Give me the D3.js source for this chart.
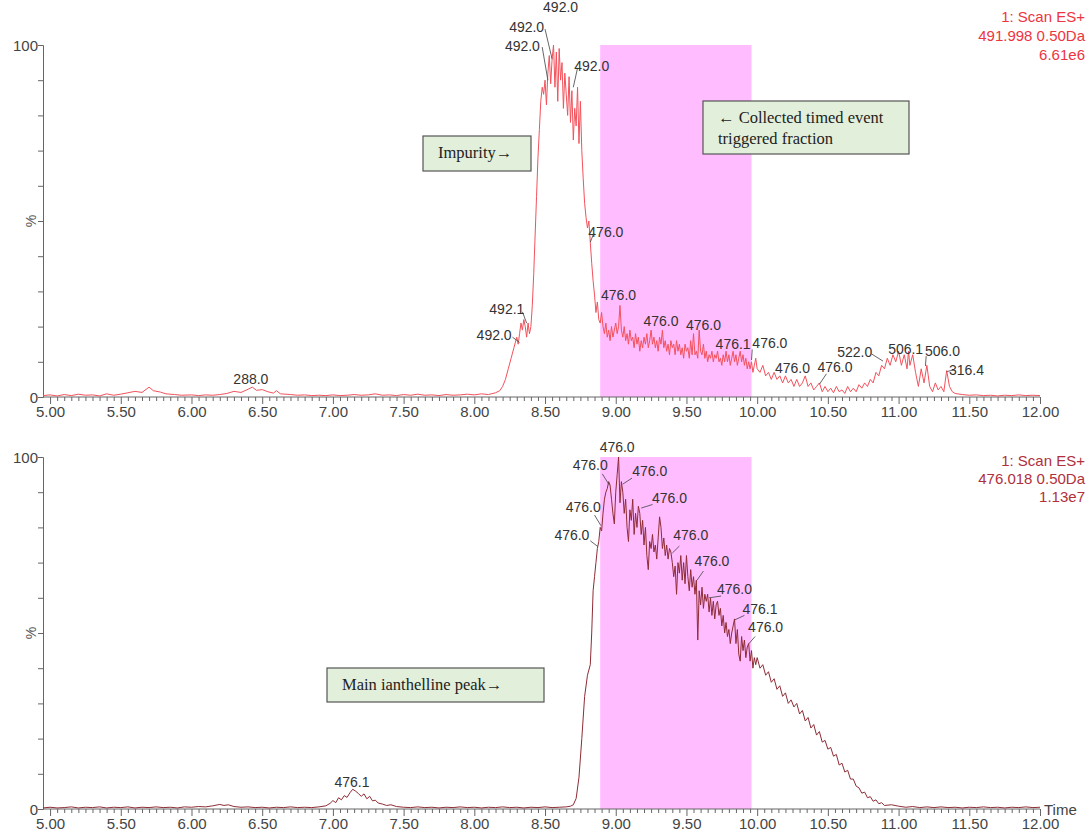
<!DOCTYPE html>
<html>
<head>
<meta charset="utf-8">
<script src="https://cdn.jsdelivr.net/npm/d3@7"></script>
<style>
  body { margin: 0; background: #fff; }
  svg { display: block; font-family: "Liberation Sans", Arial, sans-serif; }
</style>
</head>
<body>
<div id="chart"></div>
<script>
// ---- data (time in min, intensity in %) ----
var topTrace = [
  [4.95,0.4],[5.00,0.6],[5.05,0.3],[5.10,0.7],[5.15,0.4],[5.20,0.8],[5.25,0.5],[5.30,0.6],[5.35,0.3],[5.40,0.9],
  [5.45,0.5],[5.50,0.8],[5.55,1.2],[5.60,1.6],[5.65,1.3],[5.70,2.8],[5.73,1.8],[5.78,1.4],[5.82,0.9],[5.88,0.7],
  [5.93,0.5],[6.00,0.6],[6.05,0.4],[6.10,0.6],[6.15,0.5],[6.20,0.7],[6.25,1.0],[6.30,1.6],[6.35,1.3],[6.40,2.2],
  [6.43,2.8],[6.46,1.9],[6.50,2.1],[6.54,1.5],[6.58,1.1],[6.60,1.8],[6.63,0.9],[6.70,0.7],[6.75,0.5],[6.80,0.6],
  [6.85,0.4],[6.90,0.5],[6.95,0.4],[7.00,0.6],[7.05,0.4],[7.10,0.5],[7.15,0.7],[7.20,0.5],[7.25,0.6],[7.30,0.9],
  [7.35,0.5],[7.40,0.6],[7.45,0.4],[7.50,0.7],[7.55,0.5],[7.60,0.8],[7.65,0.5],[7.70,0.6],[7.75,0.4],[7.80,0.7],
  [7.85,0.5],[7.90,0.6],[7.95,0.8],[8.00,0.6],[8.05,0.9],[8.10,0.7],[8.15,1.2],[8.18,1.8],[8.20,3.0],
  [8.22,5],[8.24,8],[8.26,11],[8.28,14],[8.30,17],[8.31,15],[8.32,18],[8.33,21],[8.34,19],[8.35,22],
  [8.36,20],[8.37,17],[8.38,21],[8.39,18],[8.40,20],[8.41,26],[8.42,35],[8.43,46],[8.44,57],[8.45,68],
  [8.46,76],[8.47,84],[8.48,88],[8.49,86],[8.50,90],[8.51,83],[8.52,92],[8.53,97],[8.54,89],[8.55,96],
  [8.56,100],[8.57,88],[8.58,98],[8.59,84],[8.60,99],[8.61,90],[8.62,95],[8.63,82],[8.64,92],[8.65,86],
  [8.66,80],[8.67,91],[8.68,78],[8.69,87],[8.70,73],[8.71,82],[8.72,77],[8.73,88],[8.74,72],[8.75,84],
  [8.76,70],[8.77,62],[8.78,55],[8.79,51],[8.80,48],[8.81,50],[8.82,44],[8.83,38],[8.84,33],[8.85,29],
  [8.86,24],[8.87,27],[8.88,22],[8.89,21],[8.90,24],[8.91,20],[8.92,18],[8.93,21],[8.94,17],[8.95,19],
  [8.96,16],[8.97,20],[8.98,17],[8.99,19],[9.00,21],[9.01,18],[9.02,20],[9.03,26],[9.04,19],[9.05,17],
  [9.06,20],[9.07,16],[9.08,18],[9.09,15],[9.10,19],[9.11,16],[9.12,17],[9.13,14],[9.14,18],[9.15,15],
  [9.16,17],[9.17,13],[9.18,16],[9.19,14],[9.20,17],[9.21,15],[9.22,18],[9.23,14],[9.24,16],[9.25,19],
  [9.26,15],[9.27,17],[9.28,14],[9.29,16],[9.30,13],[9.31,17],[9.32,15],[9.33,19],[9.34,14],[9.35,16],
  [9.36,13],[9.37,15],[9.38,12],[9.39,16],[9.40,14],[9.41,15],[9.42,12],[9.43,16],[9.44,13],[9.45,15],
  [9.46,12],[9.47,14],[9.48,11],[9.49,15],[9.50,13],[9.51,14],[9.52,11],[9.53,16],[9.54,12],[9.55,18],
  [9.56,12],[9.57,13],[9.58,11],[9.59,19],[9.60,13],[9.61,12],[9.62,15],[9.63,11],[9.64,13],[9.65,10],
  [9.66,12],[9.67,11],[9.68,13],[9.69,10],[9.70,12],[9.71,11],[9.72,13],[9.73,10],[9.74,11],[9.75,9],
  [9.76,12],[9.77,10],[9.78,13],[9.79,10],[9.80,12],[9.81,9],[9.82,11],[9.83,13],[9.84,10],[9.85,12],
  [9.86,9],[9.87,11],[9.88,13],[9.89,10],[9.90,12],[9.91,9],[9.92,11],[9.93,8],[9.94,10],[9.95,8],
  [9.96,10],[9.97,7],[9.98,9],[9.99,11],[10.00,8],[10.02,7],[10.04,9],[10.06,6],[10.08,7],[10.10,5],
  [10.12,7],[10.14,5],[10.16,6],[10.18,4],[10.20,6],[10.22,4],[10.24,5],[10.26,3],[10.28,5],[10.30,3],
  [10.32,4],[10.34,6],[10.36,3],[10.38,4],[10.40,2],[10.42,3],[10.44,4],[10.46,1.5],[10.48,3],[10.50,1.5],
  [10.52,2.5],[10.54,1.2],[10.56,3],[10.58,1.5],[10.60,2],[10.62,1],[10.64,3],[10.66,1.5],[10.68,2.5],[10.70,1.5],
  [10.72,3.5],[10.74,2.5],[10.76,4],[10.78,3],[10.80,5],[10.82,4],[10.84,7],[10.86,6],[10.88,9],[10.90,8],
  [10.92,11],[10.94,9],[10.96,12],[10.98,10],[11.00,13],[11.02,9],[11.04,12],[11.06,8],[11.07,13],[11.08,9],
  [11.10,12],[11.12,7],[11.14,3],[11.16,8],[11.18,4],[11.20,9],[11.22,3],[11.24,1.5],[11.26,4],[11.28,2],
  [11.30,3],[11.32,1.5],[11.34,7.5],[11.36,3],[11.38,1.5],[11.40,1],[11.45,0.7],[11.50,0.5],[11.55,0.6],[11.60,0.4],
  [11.65,0.5],[11.70,0.3],[11.75,0.5],[11.80,0.4],[11.85,0.6],[11.90,0.4],[11.95,0.5],[12.00,0.4]
];

var bottomTrace = [
  [4.95,0.3],[5.00,0.5],[5.05,0.3],[5.10,0.4],[5.15,0.6],[5.20,0.3],[5.25,0.5],[5.30,0.4],[5.35,0.6],[5.40,0.3],
  [5.45,0.5],[5.50,0.4],[5.55,0.6],[5.60,0.3],[5.65,0.5],[5.70,0.4],[5.75,0.6],[5.80,0.4],[5.85,0.5],[5.90,0.3],
  [5.95,0.6],[6.00,0.5],[6.05,0.7],[6.10,0.6],[6.15,0.9],[6.20,1.3],[6.23,1.0],[6.26,1.2],[6.30,0.7],[6.35,0.5],
  [6.40,0.6],[6.45,0.4],[6.50,0.5],[6.55,0.3],[6.60,0.5],[6.65,0.4],[6.70,0.6],[6.75,0.4],[6.80,0.5],[6.85,0.4],
  [6.90,0.6],[6.95,0.9],[6.98,1.6],[7.00,2.4],[7.02,1.8],[7.04,3.2],[7.06,2.6],[7.08,3.8],[7.10,3.3],[7.12,4.6],
  [7.14,5.6],[7.16,5.1],[7.18,4.4],[7.20,3.6],[7.22,4.3],[7.24,2.9],[7.26,3.6],[7.28,2.3],[7.30,2.5],[7.32,1.7],
  [7.35,1.4],[7.38,1.0],[7.41,1.2],[7.45,0.7],[7.50,0.5],[7.55,0.4],[7.60,0.6],[7.65,0.4],[7.70,0.5],[7.75,0.3],
  [7.80,0.5],[7.85,0.4],[7.90,0.6],[7.95,0.4],[8.00,0.5],[8.05,0.3],[8.10,0.5],[8.15,0.4],[8.20,0.6],[8.25,0.4],
  [8.30,0.5],[8.35,0.3],[8.40,0.5],[8.45,0.4],[8.50,0.6],[8.55,0.4],[8.60,0.5],[8.65,0.6],[8.68,0.8],[8.70,1.2],
  [8.72,3],[8.74,9],[8.76,20],[8.78,32],[8.80,38],[8.82,41],[8.83,50],[8.84,62],[8.85,66],[8.86,70],
  [8.87,74],[8.88,76],[8.89,80],[8.90,79],[8.91,84],[8.92,88],[8.93,90],[8.94,91],[8.95,93],[8.96,92],
  [8.97,88],[8.98,84],[8.99,81],[9.00,90],[9.01,95],[9.02,100],[9.03,87],[9.04,93],[9.05,90],[9.06,84],
  [9.07,88],[9.08,80],[9.09,76],[9.10,85],[9.11,82],[9.12,88],[9.13,78],[9.14,84],[9.15,80],[9.16,86],
  [9.17,84],[9.18,78],[9.19,82],[9.20,75],[9.21,80],[9.22,72],[9.23,68],[9.24,76],[9.25,74],[9.26,78],
  [9.27,73],[9.28,75],[9.29,71],[9.30,77],[9.31,83],[9.32,80],[9.33,74],[9.34,77],[9.35,72],[9.36,75],
  [9.37,71],[9.38,74],[9.39,73],[9.40,70],[9.41,66],[9.42,69],[9.43,61],[9.44,70],[9.45,67],[9.46,72],
  [9.47,65],[9.48,70],[9.49,64],[9.50,72],[9.51,66],[9.52,62],[9.53,68],[9.54,63],[9.55,66],[9.56,61],
  [9.57,65],[9.58,48],[9.59,62],[9.60,58],[9.61,63],[9.62,57],[9.63,61],[9.64,59],[9.65,61],[9.66,56],
  [9.67,60],[9.68,55],[9.69,59],[9.70,54],[9.71,58],[9.72,59],[9.73,55],[9.74,57],[9.75,52],[9.76,55],
  [9.77,50],[9.78,53],[9.79,49],[9.80,51],[9.81,47],[9.82,50],[9.83,52],[9.84,54],[9.85,47],[9.86,51],
  [9.87,44],[9.88,42],[9.89,49],[9.90,45],[9.91,48],[9.92,43],[9.93,46],[9.94,47],[9.95,42],[9.96,45],
  [9.97,40],[9.98,43],[9.99,41],[10.00,43],[10.02,40],[10.04,41],[10.06,38],[10.08,39],[10.10,36],[10.12,37],
  [10.14,34],[10.16,35],[10.18,32],[10.20,33],[10.22,30],[10.24,31],[10.26,29],[10.28,30],[10.30,27],[10.32,28],
  [10.34,25],[10.36,26],[10.38,23],[10.40,24],[10.42,21],[10.44,22],[10.46,19],[10.48,19.5],[10.50,17],[10.52,17.5],
  [10.54,15],[10.56,15.5],[10.58,12.5],[10.60,13],[10.62,10.5],[10.64,11],[10.66,8.5],[10.68,8.5],[10.70,6.5],[10.72,6],
  [10.74,4.5],[10.76,4.8],[10.78,3.2],[10.80,3.5],[10.82,2.2],[10.84,2.6],[10.86,1.5],[10.88,1.8],[10.90,1.0],[10.95,1.2],
  [11.00,0.8],[11.05,0.5],[11.10,0.7],
  [11.15,0.4],[11.20,0.6],[11.25,0.4],[11.30,0.6],[11.35,0.4],[11.40,0.5],[11.45,0.3],[11.50,0.5],[11.55,0.4],[11.60,0.6],
  [11.65,0.4],[11.70,0.5],[11.75,0.3],[11.80,0.5],[11.85,0.4],[11.90,0.6],[11.95,0.4],[12.00,0.5]
];

// peak labels: text, label anchor (t, %), optional leader [t1, %1, t2, %2]
var topLabels = [
  {text: "288.0", t: 6.42, v: 3.7},
  {text: "492.0", t: 8.61, v: 109.5},
  {text: "492.0", t: 8.37, v: 103.7, lead: [8.50, 104.5, 8.55, 96]},
  {text: "492.0", t: 8.34, v: 98.3, lead: [8.48, 99.4, 8.52, 90]},
  {text: "492.0", t: 8.83, v: 92.6, lead: [8.73, 93.5, 8.70, 88]},
  {text: "476.0", t: 8.93, v: 45.5, lead: [8.845, 46.5, 8.82, 44]},
  {text: "492.1", t: 8.23, v: 23.6, lead: [8.34, 24.2, 8.37, 21]},
  {text: "492.0", t: 8.14, v: 16.2, lead: [8.27, 17, 8.32, 15.5]},
  {text: "476.0", t: 9.02, v: 27.6},
  {text: "476.0", t: 9.32, v: 20.2},
  {text: "476.0", t: 9.62, v: 19.0},
  {text: "476.1", t: 9.83, v: 13.6},
  {text: "476.0", t: 10.09, v: 13.9, lead: [9.965, 13.5, 9.96, 10.5]},
  {text: "476.0", t: 10.25, v: 6.8},
  {text: "476.0", t: 10.55, v: 7.1, lead: [10.49, 6.6, 10.44, 3.6]},
  {text: "522.0", t: 10.69, v: 11.4, lead: [10.81, 12.2, 10.89, 10.2]},
  {text: "506.1", t: 11.05, v: 12.3},
  {text: "506.0", t: 11.31, v: 11.6, lead: [11.195, 11.6, 11.19, 8.8]},
  {text: "316.4", t: 11.48, v: 6.3, lead: [11.39, 7.7, 11.34, 7.2]}
];

var bottomLabels = [
  {text: "476.1", t: 7.135, v: 6.3},
  {text: "476.0", t: 9.01, v: 101.4},
  {text: "476.0", t: 8.82, v: 96.3, lead: [8.905, 95.2, 8.955, 92]},
  {text: "476.0", t: 8.77, v: 84.4, lead: [8.85, 83.5, 8.895, 80.5]},
  {text: "476.0", t: 8.69, v: 76.4, lead: [8.82, 76.2, 8.875, 74.5]},
  {text: "476.0", t: 9.24, v: 94.6, lead: [9.115, 94, 9.05, 92.3]},
  {text: "476.0", t: 9.38, v: 86.9, lead: [9.26, 86.5, 9.18, 85.5]},
  {text: "476.0", t: 9.53, v: 76.4, lead: [9.45, 74.7, 9.40, 72.7]},
  {text: "476.0", t: 9.68, v: 69.0, lead: [9.62, 67.6, 9.575, 65]},
  {text: "476.0", t: 9.84, v: 61.0, lead: [9.745, 60.5, 9.66, 60]},
  {text: "476.1", t: 10.02, v: 55.4, lead: [9.91, 55, 9.84, 53.7]},
  {text: "476.0", t: 10.06, v: 50.3, lead: [9.985, 49, 9.94, 46.9]}
];

var topHeader = ["1: Scan ES+", "491.998 0.50Da", "6.61e6"];
var bottomHeader = ["1: Scan ES+", "476.018 0.50Da", "1.13e7"];

// collected fraction window (min)
var fractionWindow = [8.89, 9.96];

var xMajorTicks = [5.00, 5.50, 6.00, 6.50, 7.00, 7.50, 8.00, 8.50, 9.00, 9.50, 10.00, 10.50, 11.00, 11.50, 12.00];

var notes = [
  {lines: ["Impurity\u2192"], x: 423, y: 136, w: 108, h: 35},
  {lines: ["\u2190 Collected timed event", "triggered fraction"], x: 703, y: 101, w: 206, h: 53},
  {lines: ["Main ianthelline peak\u2192"], x: 327, y: 668, w: 217, h: 34}
];

// ---- drawing ----
var width = 1090,
  height = 831;

var svg = d3
  .select("#chart")
  .append("svg")
  .attr("width", width)
  .attr("height", height);

var x = d3.scaleLinear().domain([4.95, 12.0]).range([43, 1040]);

var minorTicks = d3.range(0, 141).map(function (i) {
  return +(5 + i * 0.05).toFixed(2);
});

function drawPanel(cfg) {
  var y = d3.scaleLinear().domain([0, 100]).range([cfg.bottom, cfg.top]);
  var g = svg.append("g");

  // pink fraction band
  g.append("rect")
    .attr("x", x(fractionWindow[0]))
    .attr("y", y(100))
    .attr("width", x(fractionWindow[1]) - x(fractionWindow[0]))
    .attr("height", y(0) - y(100))
    .attr("fill", "#ffbcff");

  // y axis: minor ticks every 10 %, labels at 0 and 100
  var yAxis = d3
    .axisLeft(y)
    .tickValues(d3.range(0, 101, 10))
    .tickSize(5)
    .tickFormat(function (d) {
      return d === 0 || d === 100 ? d : "";
    });
  var ya = g.append("g").attr("transform", "translate(" + x(4.95) + ",0)").call(yAxis);
  ya.select(".domain").attr("stroke", "#666");
  ya.selectAll(".tick line").attr("stroke", "#666");
  ya.selectAll(".tick text")
    .attr("fill", "#444")
    .style("font-size", "15px")
    .attr("x", -5)
    .attr("dy", "0.35em");

  g.append("text")
    .attr("transform", "translate(" + 36 + "," + y(50) + ") rotate(-90)")
    .attr("text-anchor", "middle")
    .attr("fill", "#555")
    .style("font-size", "14px")
    .text("%");

  // x axis with minor ticks
  var xAxis = d3
    .axisBottom(x)
    .tickValues(minorTicks)
    .tickSize(4)
    .tickFormat(function (d) {
      return xMajorTicks.indexOf(d) >= 0 ? d.toFixed(2) : "";
    });
  var xa = g.append("g").attr("transform", "translate(0," + y(0) + ")").call(xAxis);
  xa.select(".domain").attr("stroke", "#666").attr("d", "M" + x(4.95) + ",0H" + x(12));
  xa.selectAll(".tick line")
    .attr("stroke", "#666")
    .attr("y2", function (d) {
      return xMajorTicks.indexOf(d) >= 0 ? 7 : 4;
    });
  xa.selectAll(".tick text")
    .attr("fill", "#444")
    .style("font-size", "15px")
    .attr("y", 9);

  // trace
  var line = d3
    .line()
    .x(function (d) {
      return x(d[0]);
    })
    .y(function (d) {
      return y(d[1]);
    });
  g.append("path")
    .datum(cfg.trace)
    .attr("fill", "none")
    .attr("stroke", cfg.color)
    .attr("stroke-width", 1)
    .attr("stroke-linejoin", "round")
    .attr("d", line);

  // peak labels + leaders
  var lab = g.append("g").selectAll("g").data(cfg.labels).enter().append("g");
  lab.filter(function (d) {
      return d.lead;
    })
    .append("line")
    .attr("x1", function (d) {
      return x(d.lead[0]);
    })
    .attr("y1", function (d) {
      return y(d.lead[1]);
    })
    .attr("x2", function (d) {
      return x(d.lead[2]);
    })
    .attr("y2", function (d) {
      return y(d.lead[3]);
    })
    .attr("stroke", "#555")
    .attr("stroke-width", 0.9);
  lab.append("text")
    .attr("x", function (d) {
      return x(d.t);
    })
    .attr("y", function (d) {
      return y(d.v);
    })
    .attr("text-anchor", "middle")
    .attr("fill", "#333")
    .style("font-size", "14px")
    .text(function (d) {
      return d.text;
    });

  // header, top right
  g.append("g")
    .selectAll("text")
    .data(cfg.header)
    .enter()
    .append("text")
    .attr("x", 1085)
    .attr("y", function (d, i) {
      return cfg.headerY + i * cfg.headerStep;
    })
    .attr("text-anchor", "end")
    .attr("fill", cfg.headerColor)
    .style("font-size", "15px")
    .text(function (d) {
      return d;
    });

  return y;
}

drawPanel({
  top: 45,
  bottom: 397,
  trace: topTrace,
  labels: topLabels,
  color: "#f2525c",
  header: topHeader,
  headerY: 22,
  headerStep: 19,
  headerColor: "#ee3440"
});

drawPanel({
  top: 457,
  bottom: 809,
  trace: bottomTrace,
  labels: bottomLabels,
  color: "#8e2c36",
  header: bottomHeader,
  headerY: 466,
  headerStep: 18,
  headerColor: "#b0303c"
});

svg.append("text")
  .attr("x", 1044)
  .attr("y", 815)
  .attr("fill", "#444")
  .style("font-size", "15px")
  .text("Time");

// annotation boxes
var note = svg.append("g").selectAll("g").data(notes).enter().append("g");
note.append("rect")
  .attr("x", function (d) { return d.x; })
  .attr("y", function (d) { return d.y; })
  .attr("width", function (d) { return d.w; })
  .attr("height", function (d) { return d.h; })
  .attr("fill", "#e2efda")
  .attr("stroke", "#555")
  .attr("stroke-width", 1.2);
note.each(function (d) {
  var sel = d3.select(this);
  d.lines.forEach(function (t, i) {
    sel.append("text")
      .attr("x", d.x + 15)
      .attr("y", d.y + 22 + i * 21)
      .attr("fill", "#222")
      .style("font-family", "'Liberation Serif', 'DejaVu Serif', serif")
      .style("font-size", "16.5px")
      .text(t);
  });
});
</script>
</body>
</html>
